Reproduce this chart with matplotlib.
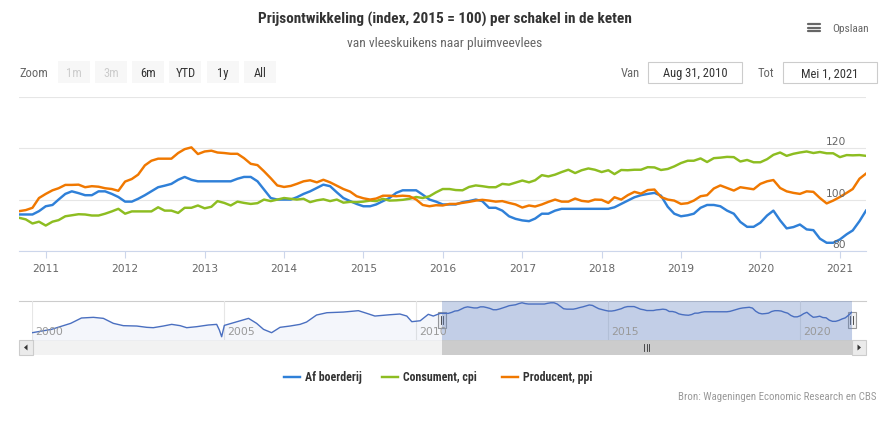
import matplotlib
matplotlib.use("Agg")
import matplotlib.pyplot as plt
import matplotlib.dates as mdates
from matplotlib import font_manager
from matplotlib.patches import Rectangle, Polygon
import pandas as pd

# Maandcijfers (index, 2015 = 100), september 2010 t/m mei 2021
af_boerderij = [
    94.2, 94.2, 94.2, 95.5,
    97.4, 97.9, 100.0, 102.2, 103.2, 102.5, 101.7, 101.7, 103.2, 103.2, 102.2, 101.0,
    99.2, 99.2, 100.3, 101.7, 103.2, 104.8, 105.4, 106.1, 107.7, 108.8, 107.7, 107.1,
    107.1, 107.1, 107.1, 107.1, 107.1, 108.1, 108.8, 108.8, 107.1, 103.9, 100.6, 100.0,
    100.0, 100.0, 100.9, 102.2, 103.2, 104.5, 105.8, 105.2, 102.8, 100.6, 99.4, 98.3,
    97.4, 97.4, 98.1, 99.4, 100.6, 102.6, 103.6, 103.6, 103.6, 101.9, 100.0, 99.2,
    98.1, 98.1, 98.1, 99.0, 99.4, 100.0, 99.4, 96.8, 96.8, 95.7, 93.5, 92.5,
    91.9, 91.6, 92.6, 94.5, 94.5, 95.7, 96.4, 96.4, 96.4, 96.4, 96.4, 96.4,
    96.4, 96.4, 97.0, 98.3, 99.6, 100.9, 101.7, 102.2, 102.6, 101.5, 97.2, 94.5,
    93.5, 93.9, 94.5, 96.8, 97.9, 97.9, 97.4, 95.7, 94.5, 91.3, 89.4, 89.4,
    91.0, 93.8, 95.7, 91.9, 88.8, 89.3, 90.3, 88.4, 88.1, 84.8, 83.2, 83.2,
    84.5, 86.5, 88.0, 91.6, 95.7,
]
consument_cpi = [
    92.9, 92.3, 90.7, 91.4,
    89.9, 91.4, 92.0, 93.5, 93.9, 94.3, 94.2, 93.8, 93.8, 94.5, 95.4, 96.4,
    94.5, 95.4, 95.4, 95.4, 95.4, 97.0, 95.7, 95.7, 94.8, 96.8, 96.8, 97.7,
    96.6, 97.2, 99.4, 98.7, 97.7, 99.2, 98.7, 98.3, 98.6, 100.0, 99.4, 100.0,
    100.6, 100.3, 100.0, 100.3, 99.0, 99.7, 100.1, 99.4, 100.0, 98.8, 99.1, 99.0,
    99.2, 99.6, 99.4, 100.3, 99.6, 99.7, 99.9, 100.3, 101.0, 100.6, 101.3, 102.8,
    104.1, 104.1, 103.7, 103.6, 104.9, 105.5, 105.2, 104.8, 104.8, 106.1, 105.8, 106.6,
    107.4, 106.7, 107.5, 109.5, 109.0, 109.7, 110.7, 111.6, 110.3, 111.4, 112.1, 111.6,
    110.7, 111.4, 109.9, 111.5, 111.4, 111.6, 111.6, 112.6, 112.5, 111.5, 111.9, 112.9,
    114.2, 115.1, 115.1, 116.0, 114.6, 116.1, 116.3, 116.6, 116.5, 114.8, 115.4, 114.5,
    114.5, 115.7, 117.4, 118.3, 117.0, 117.8, 118.3, 118.7, 118.1, 118.5, 118.0, 118.0,
    116.5, 117.3, 117.2, 117.3, 117.0,
]
producent_ppi = [
    95.5, 95.9, 96.8, 100.6,
    102.2, 103.6, 104.4, 105.7, 105.7, 105.8, 104.8, 105.2, 105.0, 104.4, 104.1, 103.4,
    107.0, 108.0, 109.7, 113.3, 115.1, 115.9, 115.9, 115.9, 118.1, 119.6, 120.3, 117.7,
    118.7, 119.0, 118.3, 118.1, 117.8, 117.8, 116.1, 113.9, 113.4, 111.0, 108.3, 105.5,
    104.9, 105.3, 106.1, 107.1, 107.5, 106.7, 107.7, 106.7, 105.4, 104.1, 103.1, 101.3,
    100.5, 100.0, 100.4, 101.5, 101.5, 101.3, 101.5, 101.3, 100.0, 97.9, 97.4, 97.8,
    97.7, 98.3, 98.3, 98.7, 99.1, 99.6, 99.9, 99.6, 99.2, 99.4, 98.7, 98.1,
    96.9, 97.7, 97.3, 98.1, 99.1, 100.0, 99.2, 99.2, 100.4, 99.5, 99.2, 100.0,
    99.9, 98.7, 100.9, 100.0, 101.7, 103.0, 102.3, 103.7, 103.9, 101.0, 100.0, 99.6,
    98.3, 98.6, 99.6, 101.3, 101.7, 104.3, 105.5, 104.5, 103.5, 104.8, 104.4, 104.0,
    106.1, 107.1, 107.6, 104.5, 103.2, 102.6, 102.2, 103.2, 103.0, 100.6, 98.5, 99.6,
    101.0, 102.6, 104.1, 108.1, 110.1,
]

# oudere reeks af boerderij, alleen zichtbaar in de navigator (jaar als decimaal)
nav_jaar = [2000.00, 2000.50, 2001.00, 2001.28, 2001.59, 2001.85, 2002.11, 2002.37,
            2002.72, 2002.98, 2003.15, 2003.41, 2003.63, 2003.85, 2004.02, 2004.28,
            2004.58, 2004.80, 2004.87, 2004.93, 2005.00, 2005.06, 2005.41, 2005.63,
            2005.84, 2006.02, 2006.23, 2006.45, 2006.71, 2006.97, 2007.14, 2007.40,
            2007.67, 2008.10, 2008.49, 2008.71, 2008.92, 2009.31, 2009.57, 2009.75,
            2009.88, 2010.10, 2010.31, 2010.44, 2010.62]
nav_waarde = [67.5, 72.1, 80.4, 87.8, 88.7, 87.3, 80.4, 77.2,
              76.7, 74.9, 74.4, 76.7, 79.0, 77.2, 74.4, 75.8,
              78.1, 79.0, 71.2, 61.9, 77.6, 78.5, 84.0, 87.3,
              80.4, 72.1, 67.5, 74.9, 76.7, 79.0, 82.2, 91.9,
              95.1, 96.0, 97.9, 94.2, 90.5, 92.3, 93.3, 90.5,
              82.7, 84.0, 92.9, 90.5, 94.2]

reeksen = [
    ("Af boerderij", af_boerderij, "#2f80d8"),
    ("Consument, cpi", consument_cpi, "#8dbd21"),
    ("Producent, ppi", producent_ppi, "#f07800"),
]
zoom_knoppen = ["1m", "3m", "6m", "YTD", "1y", "All"]
knop_actief = [False, False, True, True, True, True]
nav_jaartallen = [2000, 2005, 2010, 2015, 2020]

beschikbaar = {f.name for f in font_manager.fontManager.ttflist}
SMAL = next((n for n in ["Liberation Sans Narrow", "Roboto Condensed"] if n in beschikbaar), None)
if SMAL:
    smal = dict(family=SMAL)
else:
    smal = dict(family="DejaVu Sans", stretch="condensed")

W, H = 889, 423
fig = plt.figure(figsize=(W / 100, H / 100), dpi=100)


def box(l, t, r, b):
    return [l / W, 1 - b / H, (r - l) / W, (b - t) / H]


# laag voor titels, knoppen, legenda, in pixels
ui = fig.add_axes([0, 0, 1, 1])
ui.set_xlim(0, W)
ui.set_ylim(H, 0)
ui.axis("off")

ui.text(445, 19, "Prijsontwikkeling (index, 2015 = 100) per schakel in de keten",
        ha="center", va="center", fontsize=11, weight="bold", color="#333333", **smal)
ui.text(445, 43, "van vleeskuikens naar pluimveevlees", ha="center", va="center",
        fontsize=9.7, color="#666666", **smal)

# exportmenu
for y in (24.5, 28, 31.5):
    ui.plot([808, 820], [y, y], color="#666666", lw=1.6, solid_capstyle="round")
ui.text(832, 28.5, "Opslaan", ha="left", va="center", fontsize=8.2, color="#666666", **smal)

# range selector
ui.text(19, 72, "Zoom", ha="left", va="center_baseline", fontsize=9, color="#666666", **smal)
for i, (lab, actief) in enumerate(zip(zoom_knoppen, knop_actief)):
    x0 = 57.5 + i * 37.3
    ui.add_patch(Rectangle((x0, 61), 32, 22, facecolor="#f7f7f7", edgecolor="none"))
    ui.text(x0 + 16, 72, lab, ha="center", va="center_baseline", fontsize=9,
            color="#333333" if actief else "#cccccc", **smal)

ui.text(640, 72, "Van", ha="right", va="center_baseline", fontsize=9, color="#666666", **smal)
ui.text(774, 72, "Tot", ha="right", va="center_baseline", fontsize=9, color="#666666", **smal)
for x0, lab in [(648.3, "Aug 31, 2010"), (782.7, "Mei 1, 2021")]:
    ui.add_patch(Rectangle((x0, 62), 94, 21, facecolor="white", edgecolor="#cccccc", lw=0.8))
    ui.text(x0 + 47, 72.5, lab, ha="center", va="center_baseline", fontsize=9,
            color="#333333", **smal)

# hoofdgrafiek
ax = fig.add_axes(box(19, 96.7, 866, 251))
ax.set_facecolor("none")
datums = pd.date_range("2010-09-01", periods=len(af_boerderij), freq="MS")
for naam, waarden, kleur in reeksen:
    ax.plot(datums, waarden, color=kleur, lw=1.75, solid_joinstyle="round", label=naam)
ax.set_xlim(pd.Timestamp("2010-08-31"), pd.Timestamp("2021-05-01"))
ax.set_ylim(80, 140)
ax.set_yticks([80, 100, 120, 140])
ax.yaxis.grid(True, color="#e6e6e6", lw=0.8)
ax.set_axisbelow(True)
ax.tick_params(axis="y", length=0, labelleft=False)
for s in ("top", "left", "right"):
    ax.spines[s].set_visible(False)
ax.spines["bottom"].set_color("#ccd6eb")
ax.spines["bottom"].set_linewidth(0.8)
ax.xaxis.set_major_locator(mdates.YearLocator())
ax.xaxis.set_major_formatter(mdates.DateFormatter("%Y"))
ax.tick_params(axis="x", length=5, width=0.8, color="#ccd6eb", labelcolor="#666666",
               labelsize=7.7, pad=4)
for v in (80, 100, 120):
    ax.annotate(str(v), xy=(1, v), xycoords=("axes fraction", "data"), xytext=(-20, 3),
                textcoords="offset pixels", ha="right", va="baseline", fontsize=7.7,
                color="#666666")

# navigator
start = 2010 + (7 + 30 / 31) / 12
eind = 2021 + 4 / 12
nav_x = nav_jaar + list(datums.year + (datums.month - 1) / 12)
nav_y = nav_waarde + af_boerderij
nav = fig.add_axes(box(32.3, 300.7, 851.7, 340))
nav.set_xlim(2000, eind)
nav.set_ylim(57.4, 111.7)
nav.fill_between(nav_x, nav_y, 57.4, color="#4a6fc0", alpha=0.06, lw=0)
nav.plot(nav_x, nav_y, color="#4a6fc0", lw=1.0)
nav.axvspan(start, eind, color="#6685c2", alpha=0.35, lw=0)
for j in nav_jaartallen:
    nav.axvline(j, color="#e6e6e6", lw=0.8, zorder=0)
    nav.annotate(str(j), xy=(j, 0.2), xycoords=("data", "axes fraction"), xytext=(3, 0),
                 textcoords="offset pixels", ha="left", va="center", fontsize=7.8,
                 color="#999999")
nav.axis("off")
ui.plot([19, 866], [300.7, 300.7], color="#cccccc", lw=0.8)


def nav_px(t):
    return 32.3 + (t - 2000) / (eind - 2000) * (851.7 - 32.3)


for x in (nav_px(start), nav_px(eind)):
    ui.add_patch(Rectangle((x - 3.8, 312.3), 7.6, 15.4, facecolor="#f2f2f2",
                           edgecolor="#999999", lw=0.8, zorder=5))
    for dx in (-1.3, 1.3):
        ui.plot([x + dx, x + dx], [316, 324], color="#333333", lw=0.6, zorder=6)

# scrollbar
ui.add_patch(Rectangle((19, 340), 847, 15, facecolor="#f2f2f2", edgecolor="none"))
l, r = nav_px(start), nav_px(eind)
ui.add_patch(Rectangle((l, 340), r - l, 15, facecolor="#cccccc", edgecolor="none"))
for dx in (-2.5, 0, 2.5):
    ui.plot([(l + r) / 2 + dx] * 2, [344, 351], color="#333333", lw=0.6)
for x0, richting in [(19, -1), (852, 1)]:
    ui.add_patch(Rectangle((x0, 340), 14, 15, facecolor="#ebebeb", edgecolor="#cccccc", lw=0.8))
    cx = x0 + 7
    ui.add_patch(Polygon([(cx + 2 * richting, 347.5), (cx - 1.5 * richting, 344.5),
                          (cx - 1.5 * richting, 350.5)], closed=True, facecolor="#333333",
                         edgecolor="none"))

# legenda
legenda_x = [284, 382, 502]
for (naam, _, kleur), x0 in zip(reeksen, legenda_x):
    ui.plot([x0, x0 + 16], [377, 377], color=kleur, lw=1.75)
    ui.text(x0 + 21, 377, naam, ha="left", va="center", fontsize=8.6, weight="bold",
            color="#333333", **smal)

ui.text(877, 397, "Bron: Wageningen Economic Research en CBS", ha="right", va="center",
        fontsize=7.8, color="#999999", **smal)

fig.savefig("out.png", dpi=100)
